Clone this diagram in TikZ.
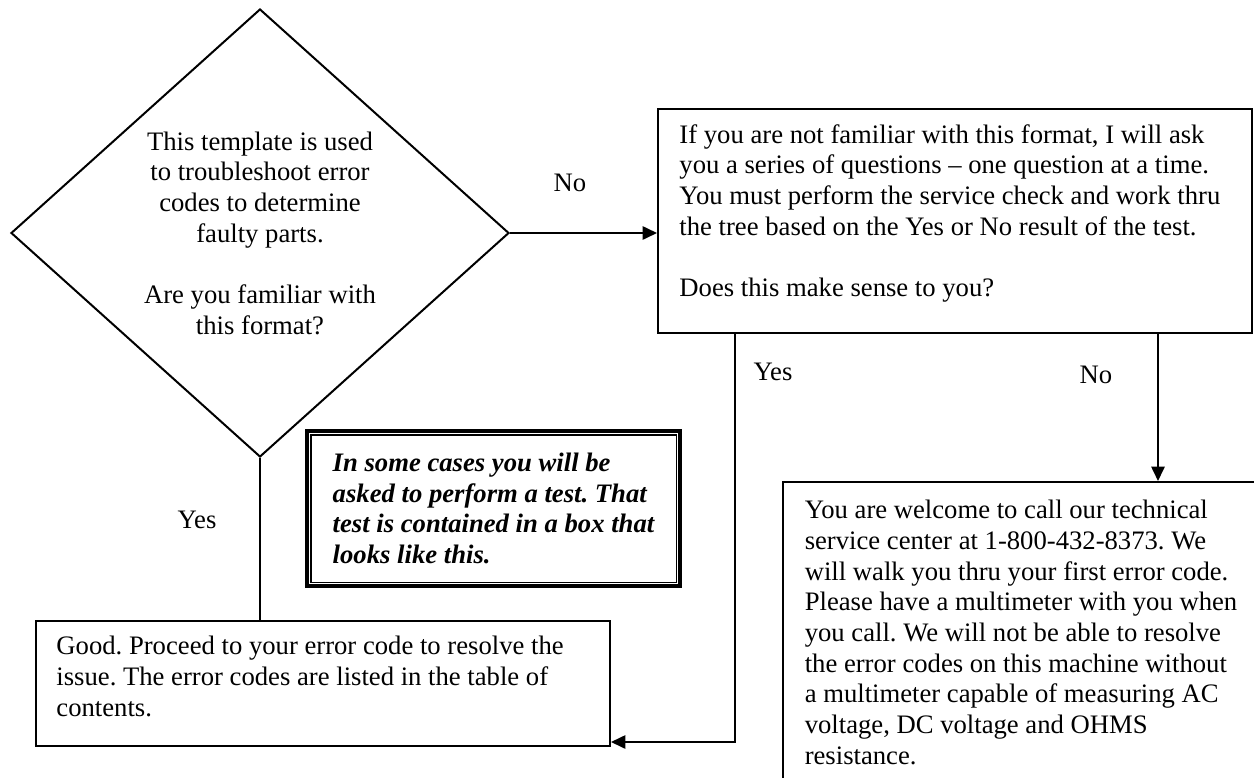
\documentclass[tikz,border=0pt]{standalone}
\usepackage{fontspec}
\setmainfont{Liberation Serif}
\usetikzlibrary{shapes.geometric,arrows.meta}
\frenchspacing

\newcommand{\px}{0.45pt}

\begin{document}
\begin{tikzpicture}[x=\px,y=-\px,
    every node/.style={font=\fontsize{12}{13.8}\selectfont,inner sep=0pt},
    box/.style={draw,rectangle,line width=0.9pt},
    boxtext/.style={anchor=north west,align=left},
    testbox/.style={draw,rectangle,line width=1.4pt,align=left,font=\fontsize{12}{13.8}\selectfont\bfseries\itshape},
    decision/.style={draw,diamond,aspect=1.11,line width=0.9pt,align=center},
    flowline/.style={line width=0.9pt},
    arrowline/.style={line width=0.9pt,-{Triangle[length=6.5pt,width=6pt]}}]
    \useasboundingbox (0,0) rectangle (1254,778);
    % question and the boxes
    \node[decision,minimum width=498*\px,minimum height=448*\px] (ask) at (260,233)
    {This template is used\\to troubleshoot error\\codes to determine\\faulty parts.\\[13.8pt]Are you familiar with\\this format?};
    \node[box,minimum width=594*\px,minimum height=224*\px] (explain) at (955,221) {};
    \node[boxtext] (explaintext) at ([shift={(22,16)}]explain.north west)
    {If you are not familiar with this format, I will ask\\you a series of questions – one question at a time.\\You must perform the service check and work thru\\the tree based on the Yes or No result of the test.\\[13.8pt]Does this make sense to you?};
    \node[box,minimum width=574*\px,minimum height=125*\px] (goodbox) at (323,683.5) {};
    \node[boxtext] (goodtext) at ([shift={(21,16)}]goodbox.north west)
    {Good. Proceed to your error code to resolve the\\issue. The error codes are listed in the table of\\contents.};
    \node[testbox,minimum width=373*\px,minimum height=155*\px] (tipbox) at (493.5,508.5)
    {In some cases you will be\\asked to perform a test. That\\test is contained in a box that\\looks like this.};
    \draw[line width=0.5pt] ([shift={(5.5,5.5)}]tipbox.north west) rectangle ([shift={(-5.5,-5.5)}]tipbox.south east);
    \node[box,minimum width=476*\px,minimum height=301*\px,align=left] (callbox) at (1021,632.5)
    {You are welcome to call our technical\\service center at 1-800-432-8373. We\\will walk you thru your first error code.\\Please have a multimeter with you when\\you call. We will not be able to resolve\\the error codes on this machine without\\a multimeter capable of measuring AC\\voltage, DC voltage and OHMS\\resistance.};
    % connectors
    \coordinate (yesbend) at (735,742);
    \coordinate (nodrop) at (1158,333);
    \draw[arrowline] (ask.east) -- (ask.east -| explain.west);
    \draw[flowline] (ask.south) -- (ask.south |- goodbox.north);
    \draw[arrowline] (yesbend |- explain.south) -- (yesbend) -- (yesbend -| goodbox.east);
    \draw[arrowline] (nodrop |- explain.south) -- (nodrop |- callbox.north);
    % answers
    \node (noleft) at (570,183) {No};
    \node (yesleft) at (197,520) {Yes};
    \node (yesright) at (773,372) {Yes};
    \node (noright) at (1096,375) {No};
\end{tikzpicture}
\end{document}
